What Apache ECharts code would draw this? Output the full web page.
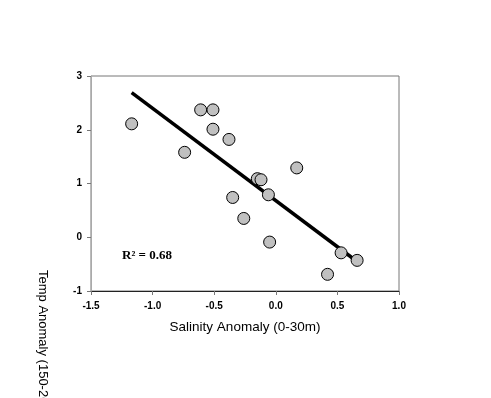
<!DOCTYPE html>
<html>
<head>
<meta charset="utf-8">
<script src="https://cdn.jsdelivr.net/npm/echarts@6/dist/echarts.min.js"></script>
<style>
  html, body { margin: 0; padding: 0; background: #fff; }
  #main { width: 491px; height: 398px; }
</style>
</head>
<body>
<div id="main"></div>
<script>
// salinity anomaly (x) and temp anomaly (y) per point
var salinity = [-1.17, -0.74, -0.61, -0.51, -0.51, -0.38, -0.35, -0.26, -0.15, -0.12, -0.06, -0.05, 0.17, 0.42, 0.53, 0.66];
var temp     = [ 2.11,  1.58,  2.37,  2.37,  2.01,  1.82,  0.74,  0.35,  1.09,  1.07,  0.79, -0.09, 1.29, -0.69, -0.29, -0.43];
// fitted line end points
var fitX = [-1.17, 0.63];
var fitY = [2.69, -0.40];
var r2Label = 'R² = 0.68';

var dom = document.getElementById('main');
var myChart = echarts.init(dom);

var points = salinity.map(function (s, i) { return [s, temp[i]]; });
var fit = fitX.map(function (x, i) { return [x, fitY[i]]; });

var tickLabel = {
    color: '#000',
    fontSize: 10,
    fontWeight: 'bold',
    fontFamily: 'Liberation Sans, Arial, sans-serif'
};

var option = {
    animation: false,
    backgroundColor: '#fff',
    grid: {
        left: 91, top: 76, right: 92, bottom: 107,
        show: true,
        borderColor: '#777',
        borderWidth: 1
    },
    xAxis: {
        type: 'value',
        min: -1.5, max: 1.0, interval: 0.5,
        splitLine: {show: false},
        axisLine: {onZero: false, lineStyle: {color: '#222', width: 1}},
        axisTick: {show: true, inside: false, length: 4, lineStyle: {color: '#777'}},
        axisLabel: Object.assign({margin: 10, formatter: function (v) { return v.toFixed(1); }}, tickLabel),
        name: 'Salinity Anomaly (0-30m)',
        nameLocation: 'middle',
        nameGap: 29,
        nameTextStyle: {color: '#000', fontSize: 13.5, fontFamily: 'Liberation Sans, Arial, sans-serif'}
    },
    yAxis: {
        type: 'value',
        min: -1, max: 3, interval: 1,
        splitLine: {show: false},
        axisLine: {onZero: false, lineStyle: {color: '#aaa', width: 1}},
        axisTick: {show: true, inside: false, length: 4, lineStyle: {color: '#777'}},
        axisLabel: Object.assign({margin: 9}, tickLabel)
    },
    graphic: [
        {
            type: 'text',
            x: 49, y: 270,
            rotation: -Math.PI / 2,
            style: {
                text: 'Temp Anomaly (150-200m)',
                fill: '#000',
                font: '13px Liberation Sans, Arial, sans-serif',
                textAlign: 'left',
                textVerticalAlign: 'top'
            }
        },
        {
            type: 'text',
            x: 122, y: 256,
            style: {
                text: r2Label,
                fill: '#000',
                font: 'bold 13px Liberation Serif, Times New Roman, serif',
                textAlign: 'left',
                textVerticalAlign: 'middle'
            }
        }
    ],
    series: [
        {
            type: 'line',
            data: fit,
            showSymbol: false,
            lineStyle: {color: '#000', width: 3.5},
            z: 2
        },
        {
            type: 'scatter',
            data: points,
            symbol: 'circle',
            symbolSize: 12,
            itemStyle: {color: '#c0c0c0', borderColor: '#000', borderWidth: 1, opacity: 1},
            z: 3
        }
    ]
};

myChart.setOption(option);
</script>
</body>
</html>
